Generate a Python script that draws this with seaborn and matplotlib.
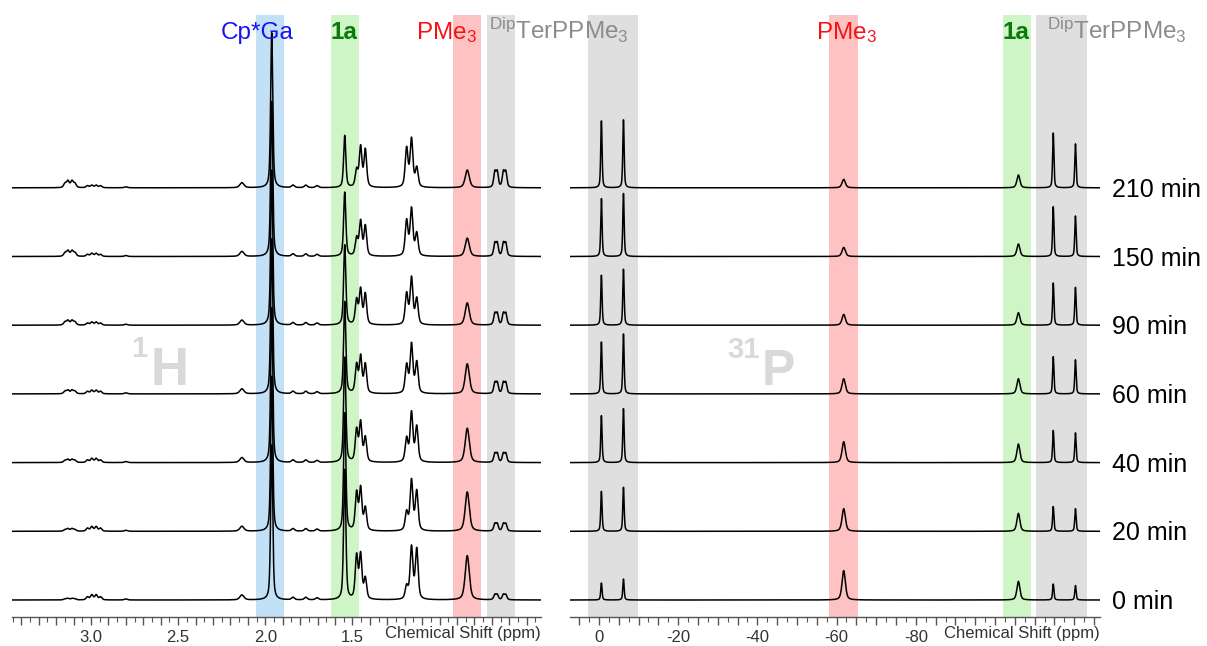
import numpy as np
import pandas as pd
import matplotlib
matplotlib.use("Agg")
import matplotlib.pyplot as plt
import matplotlib.transforms as mtransforms
from matplotlib.ticker import MultipleLocator, FuncFormatter
import seaborn as sns

# ---------------- data ----------------
times = ["0 min", "20 min", "40 min", "60 min", "90 min", "150 min", "210 min"]

# 1H peaks: position (ppm), half width (ppm), heights for each time (0 ... 210 min)
h_pos = [3.149, 3.132, 3.109, 3.092, 3.020, 2.995, 2.970, 2.945, 2.800, 2.134,
         1.963, 1.841, 1.767, 1.703, 1.544, 1.476, 1.453, 1.426,
         1.189, 1.161, 1.131, 0.841, 0.683, 0.669, 0.634, 0.620]
h_hw = [0.009, 0.009, 0.009, 0.009, 0.009, 0.009, 0.009, 0.009, 0.010, 0.014,
        0.007, 0.010, 0.010, 0.010, 0.0075, 0.009, 0.009, 0.009,
        0.0095, 0.0095, 0.0095, 0.014, 0.0075, 0.0075, 0.0075, 0.0075]
h_heights = [
    [1.0, 1.5, 2.0, 2.5, 3.0, 3.5, 4.0],
    [1.5, 2.5, 3.0, 3.5, 4.5, 5.5, 6.5],
    [1.5, 2.5, 3.0, 3.5, 4.5, 5.5, 6.5],
    [1.0, 1.5, 2.0, 2.5, 3.0, 3.5, 4.0],
    [3.0, 3.0, 2.5, 2.5, 2.0, 2.0, 2.0],
    [5.0, 4.5, 4.0, 3.5, 3.0, 3.0, 2.5],
    [5.0, 4.5, 4.0, 3.5, 3.0, 3.0, 2.5],
    [3.0, 3.0, 2.5, 2.5, 2.0, 2.0, 2.0],
    [1.0, 1.0, 1.0, 1.0, 1.0, 1.0, 1.0],
    [5.0, 5.0, 5.0, 5.0, 5.0, 5.0, 5.0],
    [155, 155, 155, 155, 155, 155, 155],
    [2.5, 2.5, 2.5, 2.5, 2.5, 2.5, 2.5],
    [2.5, 2.5, 2.5, 2.5, 2.5, 2.5, 2.5],
    [2.0, 2.0, 2.0, 2.0, 2.0, 2.0, 2.0],
    [130, 118, 105, 92, 80, 64, 52],
    [42.8, 37.2, 31.6, 27.9, 24.2, 17.5, 16.7],
    [43.9, 41.7, 39.0, 36.1, 34.6, 34.2, 39.8],
    [20.5, 22.3, 24.2, 28.7, 30.5, 29.8, 37.2],
    [12.7, 18.3, 23.3, 28.0, 30.7, 35.0, 38.7],
    [52.0, 50.0, 49.0, 48.7, 46.3, 46.7, 47.7],
    [50.0, 39.3, 35.0, 30.7, 25.7, 22.3, 19.0],
    [44.3, 39.3, 34.3, 30.0, 22.3, 18.3, 17.7],
    [5.0, 7.0, 8.5, 10.5, 11.0, 12.5, 15.0],
    [5.0, 7.0, 8.5, 10.5, 11.0, 12.5, 15.0],
    [5.0, 7.0, 8.5, 10.5, 11.0, 12.5, 15.0],
    [5.0, 7.0, 8.5, 10.5, 11.0, 12.5, 15.0],
]

# 31P peaks
p_pos = [-0.63, -6.2, -61.8, -105.9, -114.7, -120.3]
p_hw = [0.2, 0.2, 0.5, 0.45, 0.2, 0.2]
p_heights = [
    [17, 40, 47, 52, 50, 58, 67],
    [21, 44, 54, 60, 56, 63, 68],
    [29.4, 22.6, 20.9, 15.2, 10.8, 9.1, 8.4],
    [18.6, 17.9, 18.6, 15.2, 12.5, 12.5, 12.8],
    [15.9, 24.7, 32.1, 37.2, 42.2, 49.7, 54.7],
    [14.5, 22.6, 29.7, 34.1, 37.8, 40.5, 43.9],
]

h_xlim = (3.453, 0.418)
p_xlim = (7.3, -126.5)

# highlight bands (ppm ranges)
h_bands = [((2.053, 1.893), "#C3E1F6"), ((1.623, 1.462), "#CFF5C6"),
           ((0.923, 0.762), "#FFC2C2"), ((0.728, 0.567), "#DFDFDF")]
p_bands = [((2.78, -9.85), "#DFDFDF"), ((-58.0, -65.4), "#FFC2C2"),
           ((-102.0, -109.1), "#CFF5C6"), ((-110.4, -123.2), "#DFDFDF")]

STEP = 68.7  # vertical offset between stacked spectra


def build(pos, hw, heights, xlim, n):
    x = np.linspace(xlim[0], xlim[1], n)
    rows = []
    for ti, t in enumerate(times):
        y = np.zeros_like(x)
        for p, w, hs in zip(pos, hw, heights):
            u = (x - p) / w
            y += hs[ti] * (0.5 / (1 + u ** 2) + 0.5 * np.exp(-np.log(2) * u ** 2))
        rows.append(pd.DataFrame({"ppm": x, "y": y + ti * STEP, "time": t}))
    return pd.concat(rows, ignore_index=True)


df_h = build(h_pos, h_hw, h_heights, h_xlim, 7000)
df_p = build(p_pos, p_hw, p_heights, p_xlim, 6000)

# ---------------- figure ----------------
sns.set_theme(style="white")
plt.rcParams["font.family"] = ["Liberation Sans", "DejaVu Sans"]
plt.rcParams["mathtext.fontset"] = "custom"
plt.rcParams["mathtext.rm"] = "Liberation Sans"
plt.rcParams["mathtext.it"] = "Liberation Sans:italic"
plt.rcParams["mathtext.bf"] = "Liberation Sans:bold"

W, H = 1207, 646
fig = plt.figure(figsize=(W / 100, H / 100), dpi=100)


def rect(x0, x1, ytop, ybot):
    return [x0 / W, 1 - ybot / H, (x1 - x0) / W, (ybot - ytop) / H]


axL = fig.add_axes(rect(12, 541, 15, 617))
axR = fig.add_axes(rect(570, 1100, 15, 617))
axL.set_zorder(3)

for ax, df, xlim, bands in [(axL, df_h, h_xlim, h_bands), (axR, df_p, p_xlim, p_bands)]:
    for (a, b), c in bands:
        ax.axvspan(a, b, color=c, lw=0, zorder=0)
    sns.lineplot(data=df, x="ppm", y="y", units="time", estimator=None, sort=False,
                 color="black", lw=1.1, ax=ax, legend=False, zorder=3)
    ax.set_xlim(*xlim)
    ax.set_ylim(-17, 585)
    ax.set_xlabel("")
    ax.set_ylabel("")
    ax.set_yticks([])
    for s in ["left", "right", "top"]:
        ax.spines[s].set_visible(False)
    ax.spines["bottom"].set_color("#555555")
    ax.spines["bottom"].set_linewidth(1.0)
    ax.set_facecolor("none")
    ax.tick_params(axis="x", which="both", bottom=True, direction="out",
                   color="#555555", labelsize=12, labelcolor="#333333", pad=3)
    ax.tick_params(axis="x", which="major", length=6, width=1)
    ax.tick_params(axis="x", which="minor", length=3.5, width=0.8)
    ax.text(1.0, -0.027, "Chemical Shift (ppm)", transform=ax.transAxes,
            ha="right", va="center", fontsize=12, color="#333333")

axL.xaxis.set_major_locator(MultipleLocator(0.1))
axL.xaxis.set_minor_locator(MultipleLocator(0.05))
axL.xaxis.set_major_formatter(FuncFormatter(
    lambda v, p: f"{v:.1f}" if (abs(v * 2 - round(v * 2)) < 1e-6 and v > 1.4) else ""))
axR.xaxis.set_major_locator(MultipleLocator(5))
axR.xaxis.set_minor_locator(MultipleLocator(2.5))
axR.xaxis.set_major_formatter(FuncFormatter(
    lambda v, p: f"{int(round(v))}" if (abs(v / 20 - round(v / 20)) < 1e-6 and v > -90) else ""))

# top labels
BLUE, GREEN, RED, GRAY = "#1414F5", "#0A7A0A", "#F51414", "#8C8C8C"
dip = r"$^\mathregular{Dip}$TerPPMe$_\mathregular{3}$"
pme = r"PMe$_\mathregular{3}$"
TY = 561
fs = 17.5
axL.text(2.048, TY, "Cp*Ga", ha="center", va="baseline", color=BLUE, fontsize=fs)
axL.text(1.625, TY, "1a", ha="left", va="baseline", color=GREEN, fontsize=fs, fontweight="bold")
axL.text(0.960, TY, pme, ha="center", va="baseline", color=RED, fontsize=fs)
axL.text(0.715, TY, dip, ha="left", va="baseline", color=GRAY, fontsize=fs, clip_on=False,
         zorder=10)
axR.text(-62.5, TY, pme, ha="center", va="baseline", color=RED, fontsize=fs)
axR.text(-102.0, TY, "1a", ha="left", va="baseline", color=GREEN, fontsize=fs, fontweight="bold")
axR.text(-113.1, TY, dip, ha="left", va="baseline", color=GRAY, fontsize=fs, clip_on=False)

# time labels
tr = mtransforms.blended_transform_factory(fig.transFigure, axR.transData)
for ti, t in enumerate(times):
    axR.text(1112 / W, ti * STEP - 9, t, transform=tr, ha="left", va="baseline",
             fontsize=18, color="black", clip_on=False)

# nucleus watermarks
WM = "#D9D9D9"
fig.text(150 / W, 1 - 385 / H, "H", ha="left", va="baseline", fontsize=38,
         fontweight="bold", color=WM)
fig.text(147 / W, 1 - 357 / H, "1", ha="right", va="baseline", fontsize=21,
         fontweight="bold", color=WM)
fig.text(762 / W, 1 - 385 / H, "P", ha="left", va="baseline", fontsize=36,
         fontweight="bold", color=WM)
fig.text(760 / W, 1 - 358 / H, "31", ha="right", va="baseline", fontsize=21,
         fontweight="bold", color=WM)

fig.savefig("out.png", dpi=100)
